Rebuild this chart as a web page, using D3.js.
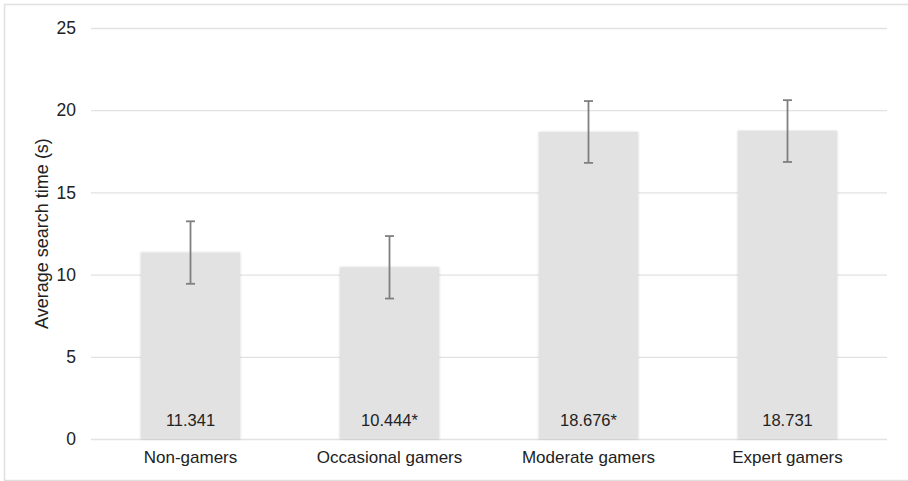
<!DOCTYPE html>
<html><head><meta charset="utf-8">
<script src="https://cdn.jsdelivr.net/npm/d3@7"></script>
<style>body{margin:0;background:#fff;}svg{display:block;font-family:"Liberation Sans",Arial,sans-serif;}</style>
</head><body>
<svg id="chart" width="908" height="481"></svg>
<script>
const categories = ["Non-gamers", "Occasional gamers", "Moderate gamers", "Expert gamers"];
const values = [11.341, 10.444, 18.676, 18.731];
const errors = [1.9, 1.9, 1.88, 1.88];
const valueLabels = ["11.341", "10.444*", "18.676*", "18.731"];
const yTicks = [0, 5, 10, 15, 20, 25];
const yTitle = "Average search time (s)";

const svg = d3.select("#chart");
const margin = {left: 91, right: 21, top: 28, bottom: 42};
const W = 908, H = 481;
const FONT = "Liberation Sans, Arial, sans-serif";

svg.append("rect").attr("x", 4.5).attr("y", 4.5).attr("width", 910).attr("height", 476)
  .attr("fill", "#fff").attr("stroke", "#e0e0e0").attr("stroke-width", 1.5);

const x = d3.scaleBand().domain(categories).range([margin.left, W - margin.right]).padding(0.5).paddingOuter(0.25);
const y = d3.scaleLinear().domain([0, 25]).range([H - margin.bottom, margin.top]);

const defs = svg.append("defs");
const f = defs.append("filter").attr("id", "sh").attr("x", "-10%").attr("y", "-10%").attr("width", "120%").attr("height", "120%");
f.append("feDropShadow").attr("dx", 0).attr("dy", 0).attr("stdDeviation", 1.3).attr("flood-color", "#000").attr("flood-opacity", 0.2);

const yAxis = d3.axisLeft(y).tickValues(yTicks).tickSize(-(W - margin.left - margin.right)).tickPadding(15);
const gy = svg.append("g").attr("transform", `translate(${margin.left},0)`).call(yAxis);
gy.select(".domain").remove();
gy.selectAll(".tick line").attr("stroke", "#e2e2e2").attr("stroke-width", 1.3);
gy.selectAll(".tick text").attr("fill", "#222").attr("font-size", 17.5).attr("font-family", FONT);

svg.append("g").selectAll("rect").data(categories).join("rect")
  .attr("x", d => x(d)).attr("width", x.bandwidth())
  .attr("y", (d, i) => y(values[i])).attr("height", (d, i) => y(0) - y(values[i]))
  .attr("fill", "#e2e2e2").attr("filter", "url(#sh)");

const xAxis = d3.axisBottom(x).tickSize(0).tickPadding(12);
const gx = svg.append("g").attr("transform", `translate(0,${y(0)})`).call(xAxis);
gx.select(".domain").remove();
gx.selectAll(".tick text").attr("fill", "#222").attr("font-size", 17).attr("font-family", FONT);

const eb = svg.append("g").attr("stroke", "#7f7f7f").attr("stroke-width", 1.8);
categories.forEach((c, i) => {
  const cx = x(c) + x.bandwidth() / 2;
  const top = y(values[i] + errors[i]), bot = y(values[i] - errors[i]);
  eb.append("line").attr("x1", cx).attr("x2", cx).attr("y1", top).attr("y2", bot);
  eb.append("line").attr("x1", cx - 4.5).attr("x2", cx + 4.5).attr("y1", top).attr("y2", top);
  eb.append("line").attr("x1", cx - 4.5).attr("x2", cx + 4.5).attr("y1", bot).attr("y2", bot);
});

svg.append("g").selectAll("text").data(categories).join("text")
  .attr("x", d => x(d) + x.bandwidth() / 2).attr("y", y(0) - 13)
  .attr("text-anchor", "middle").attr("font-size", 16.5).attr("fill", "#222").attr("font-family", FONT)
  .text((d, i) => valueLabels[i]);

svg.append("text").attr("transform", `translate(47.5,${(y(0) + y(25)) / 2}) rotate(-90)`)
  .attr("text-anchor", "middle").attr("font-size", 18).attr("fill", "#222").attr("font-family", FONT).text(yTitle);
</script>
</body></html>
